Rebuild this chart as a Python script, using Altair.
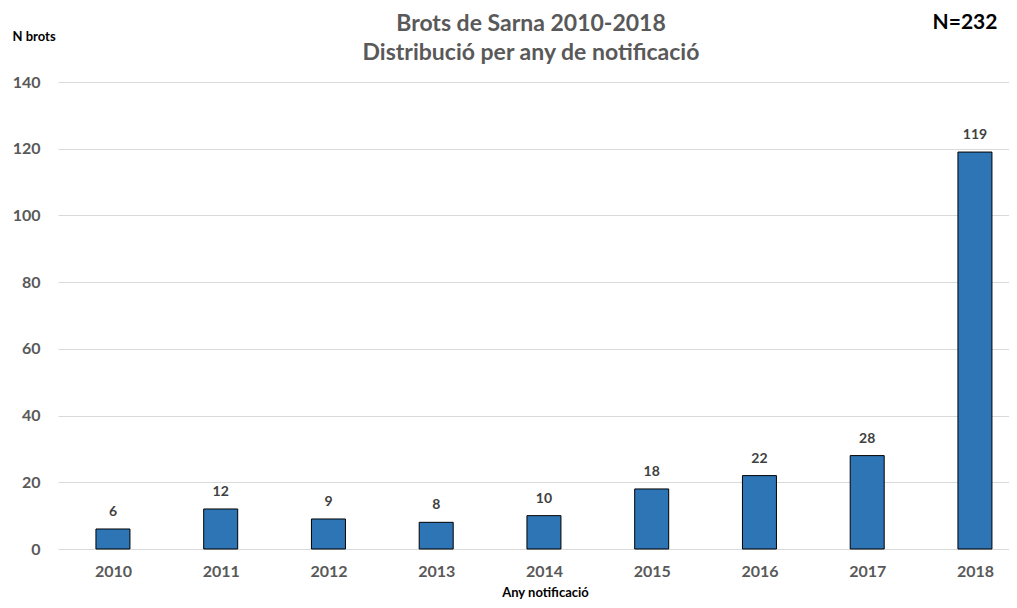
import altair as alt
import pandas as pd

years = [2010, 2011, 2012, 2013, 2014, 2015, 2016, 2017, 2018]
counts = [6, 12, 9, 8, 10, 18, 22, 28, 119]
y_ticks = [0, 20, 40, 60, 80, 100, 120, 140]
title_lines = ["Brots de Sarna 2010-2018", "Distribució per any de notificació"]
total_label = ["N=232"]

df = pd.DataFrame({"year": years, "n": counts})

FONT = "Lato"
GRAY = "#595959"

x = alt.X(
    "year:Q",
    scale=alt.Scale(domain=[2009.49, 2018.316], nice=False, zero=False, padding=0),
    axis=alt.Axis(
        values=years, format="d", grid=False, ticks=False, domain=False,
        labelFont=FONT, labelFontSize=16, labelFontWeight="bold", labelColor=GRAY,
        labelPadding=14,
        title="Any notificació", titleFont=FONT, titleFontSize=13, titleFontWeight="bold",
        titleColor="black", titleX=487, titleY=43, titleBaseline="middle", titleAnchor="middle",
    ),
)
y = alt.Y(
    "n:Q",
    scale=alt.Scale(domain=[0, 140], nice=False),
    axis=alt.Axis(
        values=y_ticks, grid=True, gridColor="#d9d9d9", gridWidth=1, ticks=False, domain=False,
        labelFont=FONT, labelFontSize=16, labelFontWeight="bold", labelColor=GRAY,
        labelPadding=18,
        title="N brots", titleFont=FONT, titleFontSize=13, titleFontWeight="bold",
        titleColor="black", titleAngle=0, titleAlign="left", titleBaseline="middle",
        titleX=-46, titleY=-46,
    ),
)

bars = alt.Chart(df).mark_bar(size=34, color="#2E75B6", stroke="black", strokeWidth=1).encode(x=x, y=y)
labels = alt.Chart(df).mark_text(
    dy=-10, baseline="bottom", font=FONT, fontSize=14, fontWeight="bold", color="#404040"
).encode(x=x, y=y, text="n:Q")

n_text = alt.Chart(pd.DataFrame({"t": total_label})).mark_text(
    font=FONT, fontSize=21, fontWeight="bold", color="black", align="center", baseline="middle"
).encode(x=alt.value(907), y=alt.value(-59), text="t:N")

title1 = alt.Chart(pd.DataFrame({"t": [title_lines[0]]})).mark_text(
    font=FONT, fontSize=23, fontWeight="bold", color=GRAY, align="center", baseline="middle"
).encode(x=alt.value(473), y=alt.value(-58), text="t:N")
title2 = alt.Chart(pd.DataFrame({"t": [title_lines[1]]})).mark_text(
    font=FONT, fontSize=23, fontWeight="bold", color=GRAY, align="center", baseline="middle"
).encode(x=alt.value(473), y=alt.value(-29), text="t:N")

chart = alt.layer(bars, labels, n_text, title1, title2).properties(
    width=951,
    height=467,
    autosize=alt.AutoSizeParams(type="none"),
    padding={"left": 50, "top": 74, "right": 0, "bottom": 51},
).configure_view(stroke=None)

chart.save("out.html", embed_options={"renderer": "svg", "actions": False})
